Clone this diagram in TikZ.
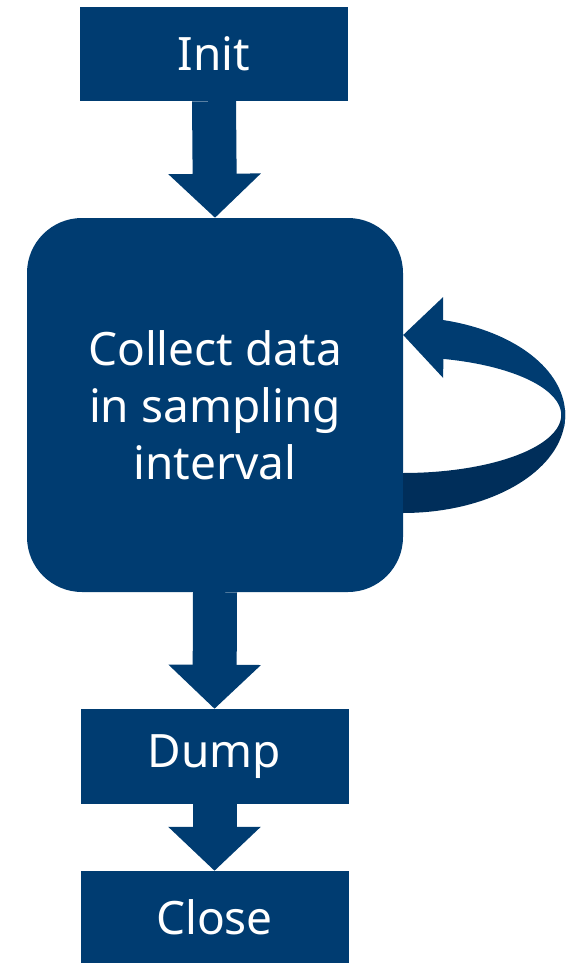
\documentclass[tikz,border=0pt]{standalone}
\usepackage{fontspec}
\setmainfont{Noto Sans}
\usepackage{tikz}
\usetikzlibrary{
    arrows.meta,
    calc
}
\definecolor{stageblue}{HTML}{003C71}
\definecolor{stagedark}{HTML}{002E5A}

\begin{document}
\begin{tikzpicture}[
  x=1pt,
  y=-1pt,
  every node/.style={align=center},
  stagebox/.style={
    fill=stageblue,
    text=white,
    inner sep=0pt,
    font=\fontsize{46}{57}\selectfont,
    minimum width=268pt,
    minimum height=94pt
  },
  loopbox/.style={
    stagebox,
    rounded corners=55pt,
    minimum width=376pt,
    minimum height=374pt
  },
  blockarrow/.style={
    -{Triangle[length=44pt,width=90pt]},
    draw=stageblue,
    fill=stageblue,
    line width=44pt
  }
]
  \useasboundingbox (0,0) rectangle (578,963);

  % Main chain of stages.
  \node[stagebox] (init) at (214,54) {Init};
  \node[loopbox] (collect) at (215,405) {Collect data\\in sampling\\interval};
  \node[stagebox, minimum height=95pt] (dump) at (214.5,756.5) {Dump};
  \node[stagebox, minimum height=92pt] (close) at (214.5,917) {Close};

  \draw[blockarrow] (init.south) -- (collect.north);
  \draw[blockarrow] (collect.south) -- (dump.north);
  \draw[blockarrow] (dump.south) -- (close.north);

  % Loop back into the collecting stage.
  \coordinate (loopc) at ([yshift=-10pt]collect.east);
  \begin{scope}[shift={(loopc)}]
    \fill[stagedark]
      plot[domain=90:-3, samples=40] ({162*cos(\x)},{98*sin(\x)})
      -- plot[domain=0:90, samples=40] ({158*cos(\x)},{58*sin(\x)})
      -- cycle;
    \fill[stageblue]
      plot[domain=-75.7:8, samples=40] ({162*cos(\x)},{98*sin(\x)})
      -- plot[domain=0:-75.3, samples=40] ({158*cos(\x)},{58*sin(\x)})
      -- (40,-37) -- (0,-80) -- (40,-118) -- cycle;
  \end{scope}
\end{tikzpicture}
\end{document}
